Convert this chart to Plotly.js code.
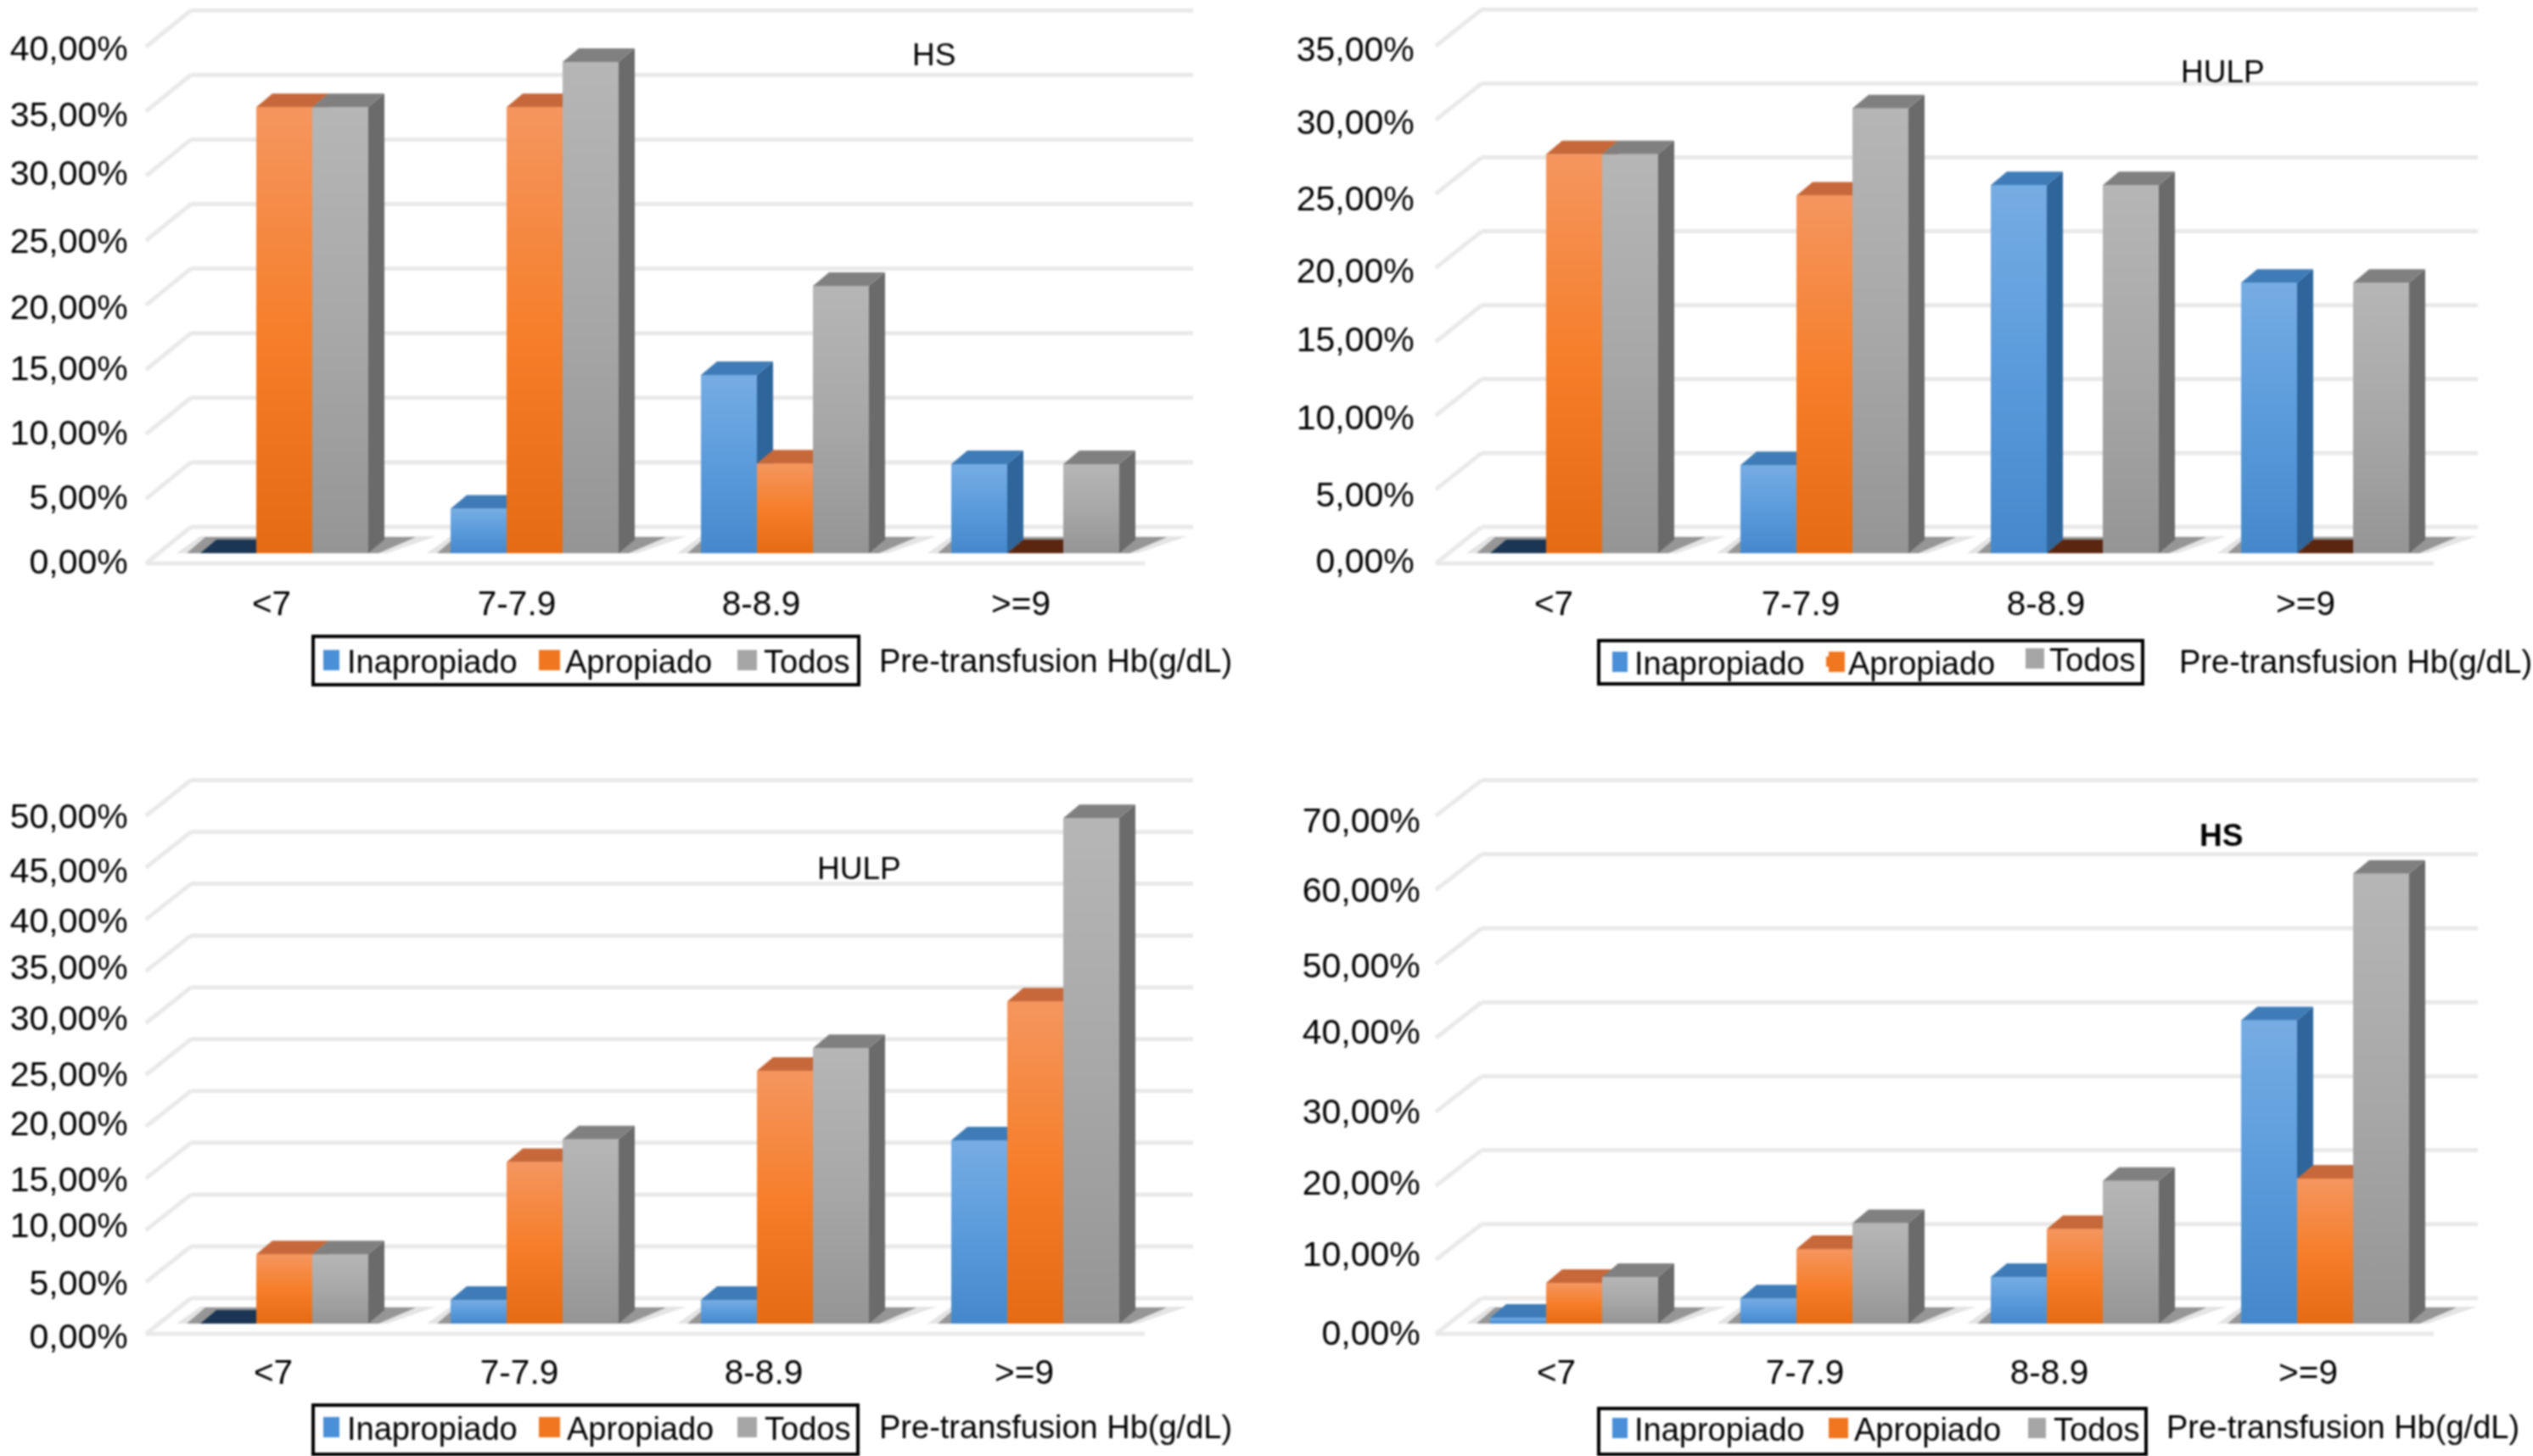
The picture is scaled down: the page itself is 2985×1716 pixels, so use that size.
<!DOCTYPE html>
<html>
<head>
<meta charset="utf-8">
<script src="https://cdn.plot.ly/plotly-3.0.1.min.js"></script>
<style>
html,body{margin:0;padding:0;background:#fff;}
#chart{width:2985px;height:1716px;filter:blur(0.9px);}
</style>
</head>
<body>
<div id="chart"></div>
<script>
// ---------- chart data ----------
const categories = ['<7', '7-7.9', '8-8.9', '>=9'];
const seriesNames = ['Inapropiado', 'Apropiado', 'Todos'];
const xAxisNote = 'Pre-transfusion Hb(g/dL)';

const panel1Title = 'HS';
const panel1Inapropiado = [0, 3.45, 13.8, 6.9];
const panel1Apropiado = [34.55, 34.55, 6.95, 0];
const panel1Todos = [34.55, 38.05, 20.7, 6.9];
const panel1Ticks = ['0,00%','5,00%','10,00%','15,00%','20,00%','25,00%','30,00%','35,00%','40,00%'];

const panel2Title = 'HULP';
const panel2Inapropiado = [0, 5.95, 24.9, 18.3];
const panel2Apropiado = [27.0, 24.2, 0, 0];
const panel2Todos = [27.0, 30.1, 24.9, 18.3];
const panel2Ticks = ['0,00%','5,00%','10,00%','15,00%','20,00%','25,00%','30,00%','35,00%'];

const panel3Title = 'HULP';
const panel3Inapropiado = [0, 2.3, 2.3, 17.7];
const panel3Apropiado = [6.7, 15.6, 24.4, 31.1];
const panel3Todos = [6.7, 17.8, 26.6, 48.8];
const panel3Ticks = ['0,00%','5,00%','10,00%','15,00%','20,00%','25,00%','30,00%','35,00%','40,00%','45,00%','50,00%'];

const panel4Title = 'HS';
const panel4Inapropiado = [0.8, 3.4, 6.3, 41.0];
const panel4Apropiado = [5.5, 10.1, 12.8, 19.6];
const panel4Todos = [6.3, 13.6, 19.3, 60.8];
const panel4Ticks = ['0,00%','10,00%','20,00%','30,00%','40,00%','50,00%','60,00%','70,00%'];

// ---------- page geometry (pixels in the 2985x1716 figure) ----------
const W = 2985, H = 1716;
const barPx = 66, unitX = 295, depthX = 19, depthY = 16;

const panels = [
 {id:'', title:panel1Title, v:[panel1Inapropiado,panel1Apropiado,panel1Todos], ticks:panel1Ticks, step:5,
  L:165,R:1420,T:5,B:672, c0:335, y0:652, yu:15.22, back:31, front:-12,
  bl:225,br:1406,fl:172,fr:1349,
  tickY:[662,586,510,434,362,284,204,135,57], catX:[320,609,897,1203],
  titleX:1100,titleY:65,titleBold:false,
  box:[369,750,1012,807], legTextX:[409,666,900], legTextY:[778,778,778],
  swatchX:[[381,400],[635,660],[869,892]], noteX:1034,noteY:779},
 {id:'2', title:panel2Title, v:[panel2Inapropiado,panel2Apropiado,panel2Todos], ticks:panel2Ticks, step:5,
  L:1681,R:2935,T:5,B:672, c0:1855, y0:652, yu:17.42, back:31, front:-12,
  bl:1746,br:2920,fl:1692,fr:2868,
  tickY:[661,583,492,400,319,234,144,58], catX:[1831,2122,2411,2717],
  titleX:2619,titleY:84,titleBold:false,
  box:[1884,755,2525,806], legTextX:[1926,2178,2415], legTextY:[780,780,776],
  swatchX:[[1900,1918],[2155,2174],[2387,2409]], noteX:2566,noteY:780},
 {id:'3', title:panel3Title, v:[panel3Inapropiado,panel3Apropiado,panel3Todos], ticks:panel3Ticks, step:5,
  L:165,R:1420,T:900,B:1578, c0:335, y0:1560, yu:12.21, back:30, front:-12,
  bl:225,br:1406,fl:172,fr:1349,
  tickY:[1575,1512,1444,1390,1324,1266,1200,1140,1085,1026,962], catX:[322,612,900,1207],
  titleX:1012,titleY:1023,titleBold:false,
  box:[369,1656,1011,1714], legTextX:[409,668,901], legTextY:[1682,1682,1682],
  swatchX:[[381,400],[635,660],[869,892]], noteX:1034,noteY:1682},
 {id:'4', title:panel4Title, v:[panel4Inapropiado,panel4Apropiado,panel4Todos], ticks:panel4Ticks, step:10,
  L:1688,R:2935,T:900,B:1578, c0:1855, y0:1560, yu:8.72, back:30, front:-12,
  bl:1746,br:2920,fl:1692,fr:2868,
  tickY:[1571,1478,1394,1310,1216,1138,1049,967], catX:[1834,2127,2415,2720],
  titleX:2617,titleY:984,titleBold:true,
  box:[1884,1660,2529,1714], legTextX:[1926,2185,2420], legTextY:[1683,1683,1683],
  swatchX:[[1900,1918],[2155,2178],[2390,2411]], noteX:2551,noteY:1682}
];

// ---------- colours ----------
const swatch = ['#4A90D9', '#F0761F', '#A6A6A6'];
const frontScale = [
 [[0,'#4588CB'],[0.5,'#5B9BDC'],[1,'#76ADE3']],
 [[0,'#E56B14'],[0.5,'#F67F2B'],[1,'#F5965F']],
 [[0,'#959595'],[0.5,'#A8A8A8'],[1,'#B6B6B6']]
];
const topColor = ['#3F7CB7', '#C6683A', '#808080'];
const sideColor = ['#2E659B', '#B75A20', '#6B6B6B'];
const zeroColor = ['#1B3654', '#5A2610', '#555555'];
const gridColor = '#E9E9E9';
const fontFamily = '"Liberation Sans", Arial, sans-serif';

// ---------- build ----------
const traces = [], shapes = [], annotations = [];
const layout = {
  width:W, height:H, margin:{l:0,r:0,t:0,b:0,autoexpand:false},
  paper_bgcolor:'#fff', plot_bgcolor:'rgba(0,0,0,0)',
  barmode:'group', bargap:1-3*barPx/unitX, bargroupgap:0,
  hovermode:false, font:{family:fontFamily,color:'#000',size:38},
  shapes, annotations
};

function poly(xaxis, yaxis, xs, ys, opts){
  traces.push(Object.assign({type:'scatter', mode:'none', fill:'toself',
    x:xs.concat(xs[0]), y:ys.concat(ys[0]), xaxis, yaxis, showlegend:false, hoverinfo:'skip'}, opts));
}

let legendCount = 0;
panels.forEach(p => {
  const xa = 'x'+p.id, ya = 'y'+p.id;
  const xPx = px => (px-p.c0)/unitX;
  const yPx = px => (p.y0-px)/p.yu;
  const dx = depthX/unitX, dy = depthY/p.yu, w = barPx/unitX;

  layout['xaxis'+p.id] = {
    domain:[p.L/W,p.R/W], range:[xPx(p.L),xPx(p.R)], anchor:ya, type:'linear',
    tickmode:'array', tickvals:p.catX.map(xPx), ticktext:categories,
    ticks:'outside', ticklen:3, tickcolor:'rgba(0,0,0,0)', showgrid:false, zeroline:false, showline:false,
    tickangle:0, tickfont:{size:40.5,family:fontFamily,color:'#000'}, fixedrange:true
  };
  layout['yaxis'+p.id] = {
    domain:[1-p.B/H,1-p.T/H], range:[yPx(p.B),yPx(p.T)], anchor:xa, type:'linear',
    tickmode:'array', tickvals:p.tickY.map(yPx), ticktext:p.ticks,
    ticks:'outside', ticklen:5, tickcolor:'rgba(0,0,0,0)', showgrid:false, zeroline:false, showline:false,
    tickfont:{size:41,family:fontFamily,color:'#000'}, fixedrange:true
  };

  // back wall gridlines, oblique floor edges, front floor edge
  const gridStyle = {color:gridColor,width:5};
  p.ticks.forEach((t,i) => {
    const v = i*p.step, yBack = v + p.back/p.yu, yFront = v + p.front/p.yu;
    shapes.push({type:'line',layer:'below',xref:xa,yref:ya,x0:xPx(p.bl),x1:xPx(p.br),y0:yBack,y1:yBack,line:gridStyle});
    shapes.push({type:'line',layer:'below',xref:xa,yref:ya,x0:xPx(p.fl),x1:xPx(p.bl),y0:yFront,y1:yBack,line:gridStyle});
  });
  const yF = p.front/p.yu;
  shapes.push({type:'line',layer:'below',xref:xa,yref:ya,x0:xPx(p.fl),x1:xPx(p.fr),y0:yF,y1:yF,line:gridStyle});

  // legend frame and swatches
  shapes.push({type:'rect',layer:'above',xref:'paper',yref:'paper',
    x0:p.box[0]/W,x1:p.box[2]/W,y0:1-p.box[1]/H,y1:1-p.box[3]/H,line:{color:'#000',width:4},fillcolor:'#fff'});

  // the bars themselves, each with its own single-entry legend
  seriesNames.forEach((name,s) => {
    legendCount++;
    const legendName = legendCount===1 ? 'legend' : 'legend'+legendCount;
    layout[legendName] = {
      orientation:'h', x:(p.legTextX[s]-40)/W, xanchor:'left', y:1-p.legTextY[s]/H, yanchor:'middle',
      bgcolor:'rgba(0,0,0,0)', borderwidth:0,
      font:{size:38,family:fontFamily,color:'#000'}
    };
    traces.push({type:'bar', name, x:[0,1,2,3], y:p.v[s], xaxis:xa, yaxis:ya, legend:legendName,
      marker:{color:swatch[s]}, hoverinfo:'skip'});
    shapes.push({type:'rect',layer:'above',xref:'paper',yref:'paper',
      x0:p.swatchX[s][0]/W,x1:p.swatchX[s][1]/W,y0:1-(p.legTextY[s]-12)/H,y1:1-(p.legTextY[s]+12)/H,
      line:{width:0},fillcolor:swatch[s]});
  });

  // floor shadows
  categories.forEach((c,i) => {
    const left = i-1.5*w, right = i+1.5*w;
    const shadowH = 20/p.yu;
    poly(xa,ya,[left-28/unitX,right+22/unitX,right+80/unitX,left],[0,0,shadowH,shadowH],{fillcolor:'rgba(130,130,130,0.22)'});
    poly(xa,ya,[left-16/unitX,right+12/unitX,right+56/unitX,left+6/unitX],[0,0,shadowH*0.95,shadowH*0.95],{fillcolor:'rgba(85,85,85,0.55)'});
  });

  // 3D faces, back-to-front so nearer bars cover the sides of their neighbours
  categories.forEach((c,i) => {
    seriesNames.forEach((name,s) => {
      const v = p.v[s][i];
      const x0 = i+(s-1)*w-w/2, x1 = x0+w;
      if(v>0) poly(xa,ya,[x1,x1+dx,x1+dx,x1],[0,dy,v+dy,v],{fillcolor:sideColor[s]});
      poly(xa,ya,[x0,x1,x1+dx,x0+dx],[v,v,v+dy,v+dy],{fillcolor:v>0?topColor[s]:zeroColor[s]});
      if(v>0) poly(xa,ya,[x0,x1,x1,x0],[0,0,v,v],{fillcolor:swatch[s],
        fillgradient:{type:'vertical',colorscale:frontScale[s]}});
    });
  });

  annotations.push({xref:'paper',yref:'paper',x:p.titleX/W,y:1-p.titleY/H,xanchor:'center',yanchor:'middle',showarrow:false,
    text:p.titleBold?('<b>'+p.title+'</b>'):p.title,font:{size:37,family:fontFamily,color:'#000'}});
  annotations.push({xref:'paper',yref:'paper',x:p.noteX/W,y:1-p.noteY/H,xanchor:'left',yanchor:'middle',showarrow:false,
    text:xAxisNote,font:{size:38,family:fontFamily,color:'#000'}});
});

Plotly.newPlot('chart', traces, layout, {staticPlot:true, displayModeBar:false});
</script>
</body>
</html>
